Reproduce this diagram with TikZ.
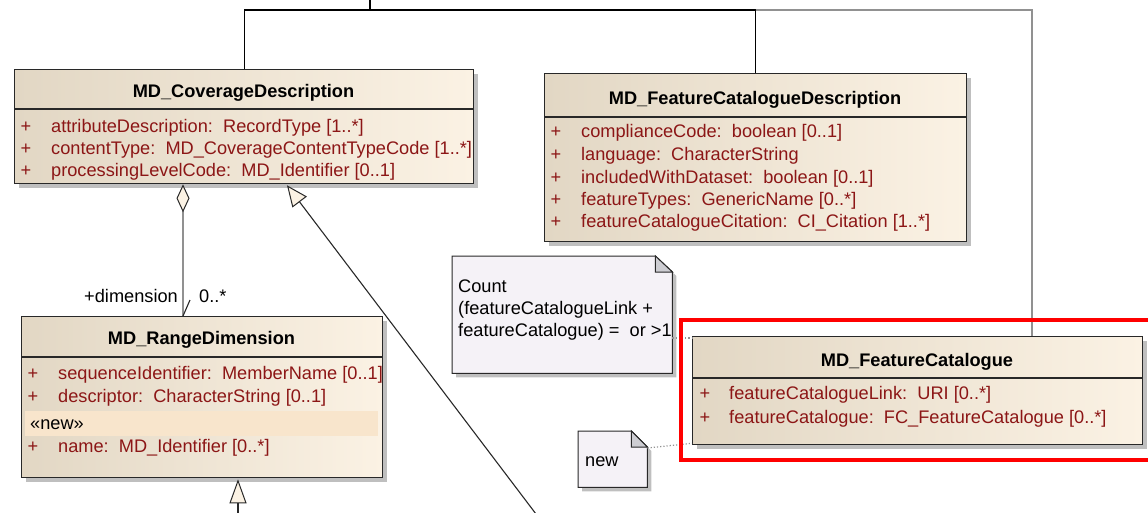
\documentclass[tikz,border=0pt]{standalone}
\usepackage{fontspec}
\setmainfont{Liberation Sans}
\usetikzlibrary{arrows.meta,shadows,calc}
\definecolor{bgL}{RGB}{226,215,196}
\definecolor{bgR}{RGB}{251,242,228}
\definecolor{bd}{RGB}{40,40,40}
\definecolor{atr}{RGB}{140,22,22}
\definecolor{notef}{RGB}{245,242,247}
\definecolor{foldc}{RGB}{205,205,210}
\definecolor{band}{RGB}{248,229,204}
\definecolor{lgray}{RGB}{145,145,145}
\begin{document}
\begin{tikzpicture}[x=1pt,y=-1pt,
  umlbox/.style={draw=bd, line width=1.3pt, left color=bgL, right color=bgR, inner sep=0pt, anchor=north west,
    drop shadow={shadow xshift=4pt,shadow yshift=-4pt,fill=black!50,opacity=0.5}},
  ttl/.style={font=\fontsize{18.2}{21}\selectfont\bfseries, anchor=base, inner sep=0pt},
  attr/.style={font=\fontsize{18.2}{21}\selectfont, text=atr, anchor=base west, inner sep=0pt},
  pl/.style={font=\fontsize{18.2}{21}\selectfont, text=atr, anchor=base, inner sep=0pt},
  txt/.style={font=\fontsize{18.2}{21}\selectfont, text=black, anchor=base west, inner sep=0pt},
  divl/.style={draw=bd, line width=1.3pt},
  conn/.style={draw=black, line width=1.2pt},
  gconn/.style={draw=lgray, line width=1.2pt},
  dotc/.style={draw=lgray, line width=1.2pt, dotted},
  notebox/.style={anchor=north west, inner sep=0pt},
  hl/.style={draw=red, line width=4pt}
]
\useasboundingbox (0,0) rectangle (1148,512);
\clip (0,0) rectangle (1148,512);

% ---------- boxes ----------
\node[umlbox, minimum width=459pt, minimum height=114pt] (cov) at (14,69) {};
\draw[divl] ($(cov.north west)+(0,40)$) -- ($(cov.north east)+(0,40)$);
\node[ttl] (covt) at (243.5,97) {MD\_CoverageDescription};
\node[pl] (cp1) at (26,132) {+}; \node[attr] (ca1) at (51,132) {attributeDescription:\ \ RecordType [1..*]};
\node[pl] (cp2) at (26,154) {+}; \node[attr] (ca2) at (51,154) {contentType:\ \ MD\_CoverageContentTypeCode [1..*]};
\node[pl] (cp3) at (26,176) {+}; \node[attr] (ca3) at (51,176) {processingLevelCode:\ \ MD\_Identifier [0..1]};

\node[umlbox, minimum width=422pt, minimum height=168pt] (fcd) at (544,73) {};
\draw[divl] ($(fcd.north west)+(0,44)$) -- ($(fcd.north east)+(0,44)$);
\node[ttl] (fcdt) at (755,104) {MD\_FeatureCatalogueDescription};
\node[pl] (dp1) at (556,137) {+}; \node[attr] (da1) at (581,137) {complianceCode:\ \ boolean [0..1]};
\node[pl] (dp2) at (556,160) {+}; \node[attr] (da2) at (581,160) {language:\ \ CharacterString};
\node[pl] (dp3) at (556,183) {+}; \node[attr] (da3) at (581,183) {includedWithDataset:\ \ boolean [0..1]};
\node[pl] (dp4) at (556,205) {+}; \node[attr] (da4) at (581,205) {featureTypes:\ \ GenericName [0..*]};
\node[pl] (dp5) at (556,227) {+}; \node[attr] (da5) at (581,227) {featureCatalogueCitation:\ \ CI\_Citation [1..*]};

\node[umlbox, minimum width=361pt, minimum height=161pt] (rd) at (21,316) {};
\draw[divl] ($(rd.north west)+(0,41)$) -- ($(rd.north east)+(0,41)$);
\fill[band] (25,411) rectangle (378,436);
\node[ttl] (rdt) at (201.5,344) {MD\_RangeDimension};
\node[pl] (rp1) at (33,379) {+}; \node[attr] (ra1) at (58,379) {sequenceIdentifier:\ \ MemberName [0..1]};
\node[pl] (rp2) at (33,402) {+}; \node[attr] (ra2) at (58,402) {descriptor:\ \ CharacterString [0..1]};
\node[txt] (rnew) at (30,429) {«new»};
\node[pl] (rp3) at (33,452) {+}; \node[attr] (ra3) at (58,452) {name:\ \ MD\_Identifier [0..*]};

\node[umlbox, minimum width=450pt, minimum height=108pt] (fc) at (692,336) {};
\draw[divl] ($(fc.north west)+(0,42)$) -- ($(fc.north east)+(0,42)$);
\node[ttl] (fct) at (917,366) {MD\_FeatureCatalogue};
\node[pl] (fp1) at (705,399) {+}; \node[attr] (fa1) at (729,399) {featureCatalogueLink:\ \ URI [0..*]};
\node[pl] (fp2) at (705,423) {+}; \node[attr] (fa2) at (729,423) {featureCatalogue:\ \ FC\_FeatureCatalogue [0..*]};

% ---------- notes ----------
\node[notebox, minimum width=220pt, minimum height=117pt] (n1) at (452,256) {};
\fill[black!50, opacity=0.5] ($(n1.north west)+(4,4)$) -- ($(n1.north east)+(-13,4)$) -- ($(n1.north east)+(4,20)$) -- ($(n1.south east)+(4,4)$) -- ($(n1.south west)+(4,4)$) -- cycle;
\filldraw[fill=notef, draw=bd, line width=1pt] (n1.north west) -- ($(n1.north east)+(-17,0)$) -- ($(n1.north east)+(0,16)$) -- (n1.south east) -- (n1.south west) -- cycle;
\filldraw[fill=foldc, draw=bd, line width=1pt] ($(n1.north east)+(-17,0)$) -- ($(n1.north east)+(-17,16)$) -- ($(n1.north east)+(0,16)$) -- cycle;
\node[txt] (n1a) at (458,292) {Count};
\node[txt] (n1b) at (458,314) {(featureCatalogueLink +};
\node[txt] (n1c) at (458,336) {featureCatalogue) =\ \ or >1};

\node[notebox, minimum width=69pt, minimum height=56pt] (n2) at (578,431) {};
\fill[black!50, opacity=0.5] ($(n2.north west)+(4,4)$) -- ($(n2.north east)+(-12,4)$) -- ($(n2.north east)+(4,20)$) -- ($(n2.south east)+(4,4)$) -- ($(n2.south west)+(4,4)$) -- cycle;
\filldraw[fill=notef, draw=bd, line width=1pt] (n2.north west) -- ($(n2.north east)+(-16,0)$) -- ($(n2.north east)+(0,16)$) -- (n2.south east) -- (n2.south west) -- cycle;
\filldraw[fill=foldc, draw=bd, line width=1pt] ($(n2.north east)+(-16,0)$) -- ($(n2.north east)+(-16,16)$) -- ($(n2.north east)+(0,16)$) -- cycle;
\node[txt] (n2a) at (585,466) {new};

% ---------- connectors ----------
\coordinate (j) at (370,10);
\coordinate (jtop) at (370,-2);
\draw[conn] (cov.north) |- (j) -| (fcd.north);
\draw[conn] (j) -- (jtop);
\draw[gconn] (fcd.north |- j) -| ($(fc.north west)+(340,0)$);

\draw[gconn, -{Diamond[length=28pt,width=13pt,fill=bgR,color=bd,line width=1pt]}] ($(rd.north west)+(162,0)$) -- ($(cov.south west)+(169,0)$);
\draw[draw=bd, line width=1.1pt] ($(rd.north west)+(162,0)$) -- ++(7,-16);
\node[txt, anchor=base east] (lbl1) at (178,302) {+dimension};
\node[txt] (lbl2) at (199,302) {0..*};

\coordinate (g1) at (536,514);
\draw[draw=bd, line width=1.1pt, -{Triangle[open,length=21pt,width=18pt,fill=bgR,line width=1pt]}] (g1) -- ($(cov.south west)+(273,1)$);
\coordinate (g2) at (238,514);
\draw[draw=bd, line width=1.1pt, -{Triangle[open,length=24pt,width=17pt,fill=bgR,line width=1pt]}] (g2) -- ($(rd.south west)+(217,1)$);

\draw[dotc] ($(n1.north east)+(0,82)$) -- ($(fc.north west)+(0,2)$);
\draw[dotc] ($(n2.north east)+(0,17)$) -- ($(fc.south west)+(0,-2)$);

% ---------- highlight ----------
\draw[hl] (681,320) rectangle (1170,460);
\end{tikzpicture}
\end{document}
